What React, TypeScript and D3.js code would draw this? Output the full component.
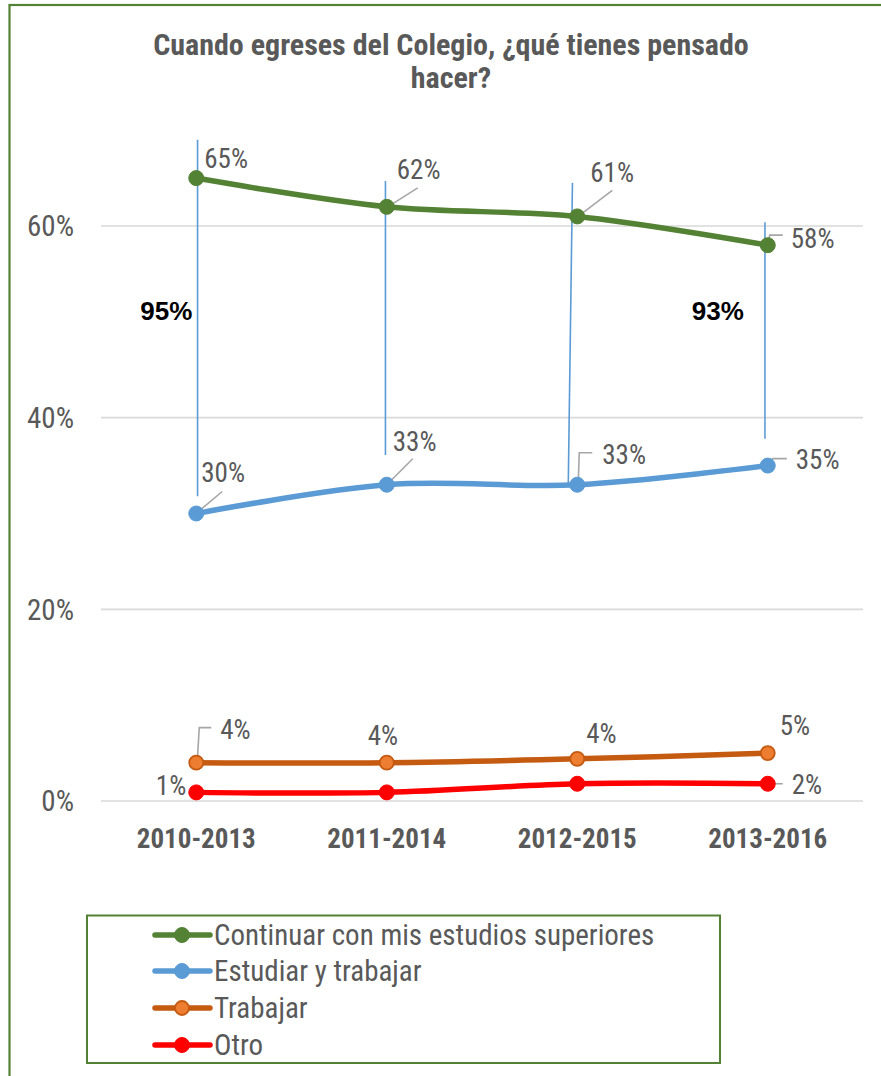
import React from 'react';
import * as d3 from 'd3';

const W = 881;
const H = 1076;

const categories = ['2010-2013', '2011-2014', '2012-2015', '2013-2016'];
const continuar = [65, 62, 61, 58];
const estudiarTrabajar = [30, 33, 33, 35];
const trabajar = [4, 4, 4.4, 5];
const otro = [0.9, 0.9, 1.8, 1.8];

const labelsContinuar = ['65%', '62%', '61%', '58%'];
const labelsEstudiar = ['30%', '33%', '33%', '35%'];
const labelsTrabajar = ['4%', '4%', '4%', '5%'];
const labelsOtro = ['1%', '', '', '2%'];

const seriesNames = ['Continuar con mis estudios superiores', 'Estudiar y trabajar', 'Trabajar', 'Otro'];
const yTicks = [0, 20, 40, 60];
const yTickLabels = ['0%', '20%', '40%', '60%'];

const titleLines = ['Cuando egreses del Colegio, ¿qué tienes pensado', 'hacer?'];

// annotation: vertical bracket lines per category (value range), and totals
const bracketCat = [0, 1, 2, 3];
const bracketTop = [69.0, 64.7, 64.5, 60.4];
const bracketBottom = [31.8, 36.1, 32.9, 37.8];
const totalCats = [0, 3];
const totalLabels = ['95%', '93%'];
const totalValue = 51.2;

// ---------- layout / style (not data) ----------
const NARROW = "'Liberation Sans Narrow', 'Arial Narrow', 'Roboto Condensed', sans-serif";
const GRAY_TEXT = '#595959';
const LEADER = '#A6A6A6';

const styles = [
  { line: '#548235', fill: '#548235', stroke: '#548235' },
  { line: '#5B9BD5', fill: '#5B9BD5', stroke: '#5B9BD5' },
  { line: '#C55A11', fill: '#ED7D31', stroke: '#C55A11' },
  { line: '#FF0000', fill: '#FF0000', stroke: '#FF0000' },
];

type LO = { dx: number; dy: number; anchor?: string; leader?: [number, number][] };
const labelLayout: LO[][] = [
  [
    { dx: 8, dy: -20 },
    { dx: 10, dy: -38, leader: [[1, 0], [31, -19]] },
    { dx: 13, dy: -44, leader: [[1, 0], [35, -26]] },
    { dx: 23, dy: -7, leader: [[0, -2], [2, -10], [15, -10]] },
  ],
  [
    { dx: 5, dy: -41, leader: [[1, -1], [26, -22]] },
    { dx: 6, dy: -43, leader: [[0, 0], [26, -26]] },
    { dx: 25, dy: -30, leader: [[1, -2], [2, -32], [15, -32]] },
    { dx: 28, dy: -6, leader: [[1, -2], [5, -7], [19, -7]] },
  ],
  [
    { dx: 24, dy: -33, leader: [[1, -1], [3, -35], [15, -35]] },
    { dx: -19, dy: -27 },
    { dx: 9, dy: -26 },
    { dx: 12, dy: -28 },
  ],
  [
    { dx: -10, dy: -7, anchor: 'end' },
    { dx: 0, dy: 0 },
    { dx: 0, dy: 0 },
    { dx: 24, dy: 1, leader: [[2, 0], [15, 0]] },
  ],
];
const bracketDx: [number, number][] = [[1.3, 1.3], [-1.3, -1.3], [-4.8, -9], [-2.8, -2.8]];
const totalDx = [-30, -50];

export default function App() {
  const margin = { left: 101, right: 18 };
  const x = d3
    .scalePoint<string>()
    .domain(categories)
    .range([margin.left, W - margin.right])
    .padding(0.5);
  const y = d3.scaleLinear().domain([0, 60]).range([801, 226]);

  const allSeries = [continuar, estudiarTrabajar, trabajar, otro];
  const allLabels = [labelsContinuar, labelsEstudiar, labelsTrabajar, labelsOtro];

  const line = d3
    .line<number>()
    .x((_, i) => x(categories[i]) as number)
    .y((d) => y(d))
    .curve(d3.curveCardinal.tension(0));

  const legendRows = [935, 971, 1008, 1045];

  return (
    <svg
      width={W}
      height={H}
      style={{ position: 'absolute', left: 0, top: 0, display: 'block', background: '#fff' }}
    >
      <rect x={0} y={0} width={W} height={H} fill="#fff" />
      <rect x={9.5} y={5} width={W + 20} height={H + 20} fill="none" stroke="#548235" strokeWidth={2.2} />

      {titleLines.map((t, i) => (
        <text
          key={i}
          x={451}
          y={55 + i * 33}
          textAnchor="middle"
          fontFamily={NARROW}
          fontWeight="bold"
          fontSize={30}
          fill={GRAY_TEXT}
        >
          {t}
        </text>
      ))}

      {yTicks.map((t, i) => (
        <g key={t}>
          <line x1={margin.left} x2={W - margin.right} y1={y(t)} y2={y(t)} stroke="#D9D9D9" strokeWidth={1.6} />
          <text
            x={74}
            y={y(t)}
            dy="0.36em"
            textAnchor="end"
            fontFamily={NARROW}
            fontSize={29}
            fill={GRAY_TEXT}
          >
            {yTickLabels[i]}
          </text>
        </g>
      ))}

      {categories.map((c) => (
        <text
          key={c}
          x={x(c)}
          y={848}
          textAnchor="middle"
          fontFamily={NARROW}
          fontWeight="bold"
          fontSize={27}
          fill={GRAY_TEXT}
        >
          {c}
        </text>
      ))}

      {bracketCat.map((ci, i) => {
        const cx = x(categories[ci]) as number;
        return (
          <line
            key={i}
            x1={cx + bracketDx[i][0]}
            x2={cx + bracketDx[i][1]}
            y1={y(bracketTop[i])}
            y2={y(bracketBottom[i])}
            stroke="#5B9BD5"
            strokeWidth={1.6}
          />
        );
      })}
      {totalCats.map((ci, i) => (
        <text
          key={i}
          x={(x(categories[ci]) as number) + totalDx[i]}
          y={y(totalValue)}
          dy="0.36em"
          textAnchor="middle"
          fontFamily="'Liberation Sans', Arial, sans-serif"
          fontWeight="bold"
          fontSize={26}
          fill="#000"
        >
          {totalLabels[i]}
        </text>
      ))}

      {allSeries.map((s, si) => (
        <path
          key={si}
          d={line(s) as string}
          fill="none"
          stroke={styles[si].line}
          strokeWidth={5.5}
          strokeLinecap="round"
        />
      ))}

      {allSeries.map((s, si) =>
        s.map((v, i) => {
          const lo = labelLayout[si][i];
          if (!lo.leader) return null;
          const px = x(categories[i]) as number;
          const py = y(v);
          const pts = lo.leader.map(([dx, dy]) => `${px + dx},${py + dy}`).join(' ');
          return <polyline key={`${si}-${i}`} points={pts} fill="none" stroke={LEADER} strokeWidth={1.6} />;
        })
      )}

      {allSeries.map((s, si) =>
        s.map((v, i) => (
          <circle
            key={`${si}-${i}`}
            cx={x(categories[i])}
            cy={y(v)}
            r={si === 2 ? 7 : 7.5}
            fill={styles[si].fill}
            stroke={styles[si].stroke}
            strokeWidth={si === 2 ? 1.8 : 1}
          />
        ))
      )}

      {allSeries.map((s, si) =>
        s.map((v, i) => {
          const lab = allLabels[si][i];
          if (!lab) return null;
          const lo = labelLayout[si][i];
          const px = x(categories[i]) as number;
          const py = y(v);
          return (
            <text
              key={`${si}-${i}`}
              x={px + lo.dx}
              y={py + lo.dy}
              dy="0.36em"
              textAnchor={lo.anchor || 'start'}
              fontFamily={NARROW}
              fontSize={27}
              fill={GRAY_TEXT}
            >
              {lab}
            </text>
          );
        })
      )}

      <rect x={87} y={915.5} width={633} height={147.5} fill="none" stroke="#548235" strokeWidth={2} />
      {seriesNames.map((n, i) => (
        <g key={n}>
          <line x1={155} x2={210} y1={legendRows[i]} y2={legendRows[i]} stroke={styles[i].line} strokeWidth={5.5} strokeLinecap="round" />
          <circle
            cx={182}
            cy={legendRows[i]}
            r={i === 2 ? 7 : 7.5}
            fill={styles[i].fill}
            stroke={styles[i].stroke}
            strokeWidth={i === 2 ? 1.8 : 1}
          />
          <text x={214} y={legendRows[i]} dy="0.36em" fontFamily={NARROW} fontSize={29} fill={GRAY_TEXT}>
            {n}
          </text>
        </g>
      ))}
    </svg>
  );
}
